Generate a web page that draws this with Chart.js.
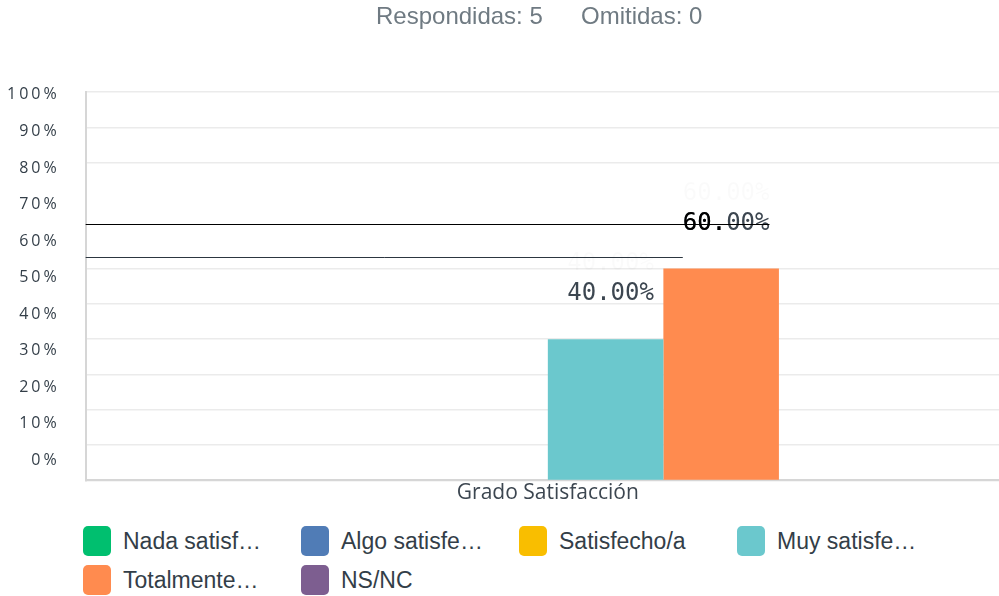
<!DOCTYPE html>
<html>
<head>
<meta charset="utf-8">
<script src="https://cdn.jsdelivr.net/npm/chart.js@4/dist/chart.umd.min.js"></script>
<style>
  html, body { margin: 0; padding: 0; width: 999px; height: 596px; overflow: hidden; background: #fff; }
  #wrap { position: relative; width: 999px; height: 596px; }
  #head { position: absolute; top: 2px; left: 0; width: 999px; font: 24px "Liberation Sans", Arial, sans-serif; color: #6f7a82; }
  #head span { position: absolute; white-space: nowrap; }
  #chartBox { position: absolute; left: 0; top: 0; width: 1010px; height: 516px; }
  #legend { position: absolute; left: 83px; top: 526px; display: grid; grid-template-columns: repeat(4, 218px); row-gap: 9px;
            font: 23px "Liberation Sans", Arial, sans-serif; color: #333e48; }
  .item { display: flex; align-items: center; height: 30px; white-space: nowrap; }
  .box { width: 28px; height: 30px; border-radius: 5px; margin-right: 12px; flex: none; }
</style>
</head>
<body>
<div id="wrap">
  <div id="chartBox"><canvas id="c" width="1010" height="516"></canvas></div>
  <div id="head"><span id="h1" style="left:376px"></span><span id="h2" style="left:581px"></span></div>
  <div id="legend"></div>
</div>
<script>
// ---- data ----
const categories = ['Grado Satisfacción'];
const seriesNames = ['Nada satisf…', 'Algo satisfe…', 'Satisfecho/a', 'Muy satisfe…', 'Totalmente…', 'NS/NC'];
const seriesValues = [[0], [0], [0], [40], [60], [0]];
const seriesColors = ['#00bf6f', '#507cb6', '#f9be00', '#6bc8cd', '#ff8b4f', '#7d5e90'];
const yTickValues = [0, 10, 20, 30, 40, 50, 60, 70, 80, 90, 100];
const yTickLabels = ['0%', '10%', '20%', '30%', '40%', '50%', '60%', '70%', '80%', '90%', '100%'];
const headerTexts = ['Respondidas: 5', 'Omitidas: 0'];

document.getElementById('h1').textContent = headerTexts[0];
document.getElementById('h2').textContent = headerTexts[1];

// HTML legend built from the series arrays
const legendEl = document.getElementById('legend');
seriesNames.forEach((n, i) => {
  const it = document.createElement('div'); it.className = 'item';
  const b = document.createElement('div'); b.className = 'box'; b.style.background = seriesColors[i];
  const t = document.createElement('span'); t.textContent = n;
  it.appendChild(b); it.appendChild(t); legendEl.appendChild(it);
});

const spacingPlugin = {
  id: 'spacing',
  beforeDraw(chart) { chart.ctx.letterSpacing = '3px'; },
  beforeDatasetsDraw(chart) { chart.ctx.letterSpacing = '0px'; },
  afterDraw(chart) { chart.ctx.letterSpacing = '0px'; }
};

const valueLabelPlugin = {
  id: 'valueLabels',
  afterDatasetsDraw(chart) {
    const ctx = chart.ctx;
    ctx.save();
    ctx.letterSpacing = '0px';
    ctx.font = '24px "DejaVu Sans Mono", monospace';
    ctx.textBaseline = 'middle';
    const pts = [];
    chart.data.datasets.forEach((ds, i) => {
      const meta = chart.getDatasetMeta(i);
      ds.data.forEach((v, j) => {
        if (!v) return;
        const el = meta.data[j];
        const text = v.toFixed(2) + '%';
        const w = ctx.measureText(text).width;
        pts.push({ text, w, x: el.x + 5, y: el.y - 45 });
      });
    });
    const left = chart.chartArea.left;
    pts.forEach((p, k) => {
      const lx = p.x - p.w / 2;
      ctx.textAlign = 'left';
      ctx.fillStyle = 'rgba(0,0,0,0.02)';
      ctx.fillText(p.text, lx, p.y - 30);
      ctx.fillStyle = '#3c4650';
      ctx.fillText(p.text, lx, p.y);
      if (k === pts.length - 1) {
        ctx.fillStyle = '#000';
        ctx.fillText(p.text.slice(0, 3), lx, p.y);
        ctx.strokeStyle = '#000';
        ctx.lineWidth = 1.2;
        ctx.beginPath(); ctx.moveTo(left, Math.round(p.y) + 0.5); ctx.lineTo(lx + p.w, Math.round(p.y) + 0.5); ctx.stroke();
      } else if (pts.length > 1) {
        const nxt = pts[pts.length - 1];
        const ly = Math.round((p.y + nxt.y) / 2 - 2) + 0.5;
        ctx.strokeStyle = '#2c3640';
        ctx.lineWidth = 1;
        ctx.beginPath(); ctx.moveTo(left, ly); ctx.lineTo(nxt.x - nxt.w / 2, ly); ctx.stroke();
      }
    });
    ctx.restore();
  }
};

new Chart(document.getElementById('c'), {
  type: 'bar',
  data: {
    labels: categories,
    datasets: seriesNames.map((n, i) => ({
      label: n,
      data: seriesValues[i],
      backgroundColor: seriesColors[i],
      borderWidth: 0,
      categoryPercentage: 0.75,
      barPercentage: 1
    }))
  },
  options: {
    responsive: false,
    animation: false,
    layout: { padding: { top: 92, left: -7, right: 0, bottom: 0 } },
    plugins: { legend: { display: false }, tooltip: { enabled: false }, title: { display: false } },
    scales: {
      x: {
        grid: { display: false, drawTicks: false },
        border: { display: true, color: '#d6d6d6', width: 2 },
        ticks: { z: 1, color: '#3c4650', font: { family: '"Open Sans", "Noto Sans", sans-serif', size: 21 }, padding: 0 }
      },
      y: {
        min: 0, max: 110,
        weight: 0,
        ticks: { display: false, stepSize: 10 },
        grid: {
          drawTicks: false,
          color: (c) => (c.tick && (c.tick.value === 70 || c.tick.value === 80)) ? 'rgba(0,0,0,0)' : '#ebebeb',
          lineWidth: 1.5
        },
        border: { display: true, color: '#d6d6d6', width: 2 }
      },
      y2: {
        position: 'left',
        weight: 1,
        min: -5.5, max: 100.8,
        afterBuildTicks: (scale) => { scale.ticks = yTickValues.map(v => ({ value: v })); },
        grid: { display: false, drawTicks: false },
        border: { display: false },
        ticks: {
          color: '#333e48',
          padding: 26,
          font: { family: '"Open Sans", "Noto Sans", sans-serif', size: 16 },
          callback: (v) => yTickLabels[yTickValues.indexOf(v)]
        }
      }
    }
  },
  plugins: [spacingPlugin, valueLabelPlugin]
});
</script>
</body>
</html>
